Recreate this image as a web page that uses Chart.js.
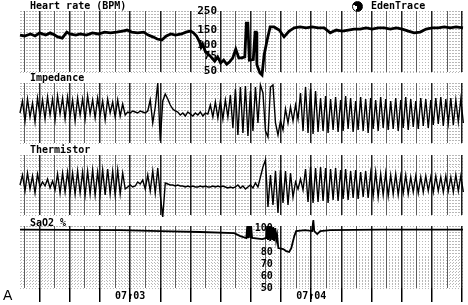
<!DOCTYPE html>
<html>
<head>
<meta charset="utf-8">
<script src="https://cdn.jsdelivr.net/npm/chart.js@4.4.1/dist/chart.umd.min.js"></script>
<style>
  body { margin: 0; width: 468px; height: 305px; background: #fff; position: relative; overflow: hidden; }
  canvas { position: absolute; left: 0; }
  .lbl { position: absolute; font: bold 10px 'DejaVu Sans Mono', monospace; line-height: 10px; color: #000; white-space: nowrap; }
</style>
</head>
<body>
<canvas id="hr" width="468" height="80" style="top:0px"></canvas>
<canvas id="imp" width="468" height="72" style="top:76px"></canvas>
<canvas id="therm" width="468" height="72" style="top:148px"></canvas>
<canvas id="sat" width="468" height="90" style="top:215px"></canvas>

<div class="lbl" style="left:30px;top:1px">Heart rate (BPM)</div>
<div class="lbl" style="left:30px;top:73px">Impedance</div>
<div class="lbl" style="left:30px;top:145px">Thermistor</div>
<div class="lbl" style="left:30px;top:218px">SaO2 %</div>
<div style="position:absolute;left:352px;top:1px;width:9px;height:9px;border:1px solid #000;border-radius:50%;background:conic-gradient(#000 0 200deg,#fff 200deg 290deg,#000 290deg)"></div>
<div class="lbl" style="left:371px;top:1px">EdenTrace</div>
<div style="position:absolute;left:3px;top:288px;font:14px 'Liberation Sans',sans-serif;line-height:14px">A</div>

<script>
// time axis in seconds, 0 = 07:03 mark
const xMin = -36.5, xMax = 110.3;
const timeMarkAt = [0, 60];
const timeMarkText = ['07\u219103', '07\u219104'];

// heart rate (BPM)
const hrTicks = [250, 150, 100, 75, 50];
const hrTime = [-36.5, -35, -33, -31.5, -30, -28, -26.5, -25, -24, -22.5, -21, -20, -18, -16.5, -14.5, -12.5, -10.5, -8.5, -6.5, -4.5,
  -2.5, -1, 0.5, 2.5, 4.5, 6, 7.5, 9, 10.5, 12, 13.5, 15, 17, 18.5, 20, 21, 22, 23, 23.5, 24,
  25, 26.5, 28, 29, 30, 31, 32, 33, 34, 35, 36, 37, 38, 38.5, 39, 39.5, 40.8, 41.4, 41.8, 42,
  43, 43.7, 44.4, 45.4, 46.4, 47.7, 49.4, 51, 52.7, 54.4, 56.3, 58.3, 60.3, 62.3, 64.3, 66.3, 68.3, 70.3, 72.3, 74.2,
  76.2, 78.2, 80.2, 82.2, 84.2, 86.2, 88.2, 90.2, 92.2, 94.1, 96.1, 98.1, 100.1, 102.1, 104.1, 106.1, 108, 110.3];
const hrBpm = [131, 128, 135, 128, 139, 131, 139, 131, 125, 121, 142, 135, 131, 135, 131, 139, 135, 142, 139, 142,
  146, 150, 142, 139, 142, 131, 125, 118, 115, 128, 135, 131, 135, 142, 146, 139, 128, 109, 95, 103,
  83, 75, 65, 73, 62, 67, 60, 64, 71, 90, 71, 71, 73, 181, 181, 67, 68, 142, 142, 59,
  47.5, 45, 77, 115, 163, 163, 150, 125, 146, 159, 163, 159, 163, 159, 159, 139, 150, 146, 150, 154,
  154, 159, 154, 159, 159, 154, 159, 154, 146, 139, 142, 154, 159, 159, 163, 159, 163, 159];

// impedance and thermistor, one sample every 0.83 s
const sampleStep = 0.83;
const impValues = [
  0, 12, -8, 14, -4, 10, -9, 15, -3, 13,
  -6, 16, -2, 14, -7, 17, -1, 15, -6, 16,
  -3, 13, -8, 15, -2, 14, -6, 17, -1, 13,
  -5, 15, -2, 12, -7, 14, 0, 11, -4, 13,
  -3, 9, -2,
  1, 0, 2, 1, 0, 2, 1, 0,
  2, 13, -10, 6, 30, -28, 12, 19, 14, 8, 4, 2,
  1, -2, 0, -3, 1, -1, -3, 0, -2, 1, -3, 0, -1,
  8, -4, 11, -5, 12, -6, 13, -4, 18, -15,
  24, -22, 26, -20, 27, -23, 22, -18, 26, -10,
  28, 20, -18, -24, 26, 28, -10, -22, -8, -17,
  4, -10, 6, -8, 8, -6, 20, -18, 26, -20,
  24, -21, 22,
  -19, 15, -18, 17, -20, 14, -17, 16, -19, 13,
  -18, 17, -16, 15, -19, 12, -17, 16, -18, 14,
  -20, 15, -16, 13, -18, 16, -15, 14, -17, 12,
  -16, 15, -18, 13, -15, 16, -17, 14, -14, 12,
  -16, 15, -13, 14, -15, 13, -12, 15, -11, 16,
  -13, 14, -10, 15, -12, 13, -9, 14, -10];
const thermValues = [
  0, 10, -6, 12, -4, 9, -8, 11, -2, 3,
  -1, 6, -3, 4, -5, 11, -8, 12, -7, 13,
  -8, 12, -9, 14, -8, 13, -10, 14, -9, 15,
  -10, 13, -9, 15, -10, 16, -9, 14, -10, 15,
  -9, 12, -4,
  -2, 0, -2, -1, 3, 1, 5, -4, 10, -6, 14, -8, 17, -10, -32, 2, 1, 0,
  0, -1, 0, -1, -1, -2, -1, -2, -1, -2, -2, -1, -2, -1, -2, -2, -1, -2, -1, -2, -1, -2, -3, -2, -3,
  -2, 0, -3, -1, -4, -2, 0, -3, 2, -2,
  8, 18, 25, -22, 10, -20, 14, -28, 15, -18, 14, -20, 12, -12, 3, -4, 6, -5, 16, -17, 18, -18, 17, -17,
  18, -16, 17, -18, 16, -15, 17, -16, 15, -14,
  16, -15, 14, -13, 15, -14, 13, -12, 14, -13,
  12, -11, 13, -12, 11, -10, 12, -11, 10, -9,
  11, -10, 9, -8, 10, -9, 8, -7, 9, -8,
  8, -7, 9, -6, 8, -7, 9, -6, 8, -7,
  9, -6, 8, -7, 10, -6, 9, -7];

// oxygen saturation (%)
const satTicks = [100, 80, 70, 60, 50];
const satTime = [-36.5, -3.3, 10, 23.2, 34.5, 36.5, 38.5, 38.8, 39.1, 39.4, 39.8, 40.1, 40.4, 43.8, 45.1,
  45.4, 45.7, 46.1, 46.4, 46.7, 47.1, 47.4, 47.7, 48.1, 48.4, 48.7, 49.1, 50.7, 51.7, 52.7,
  53.4, 54.4, 55, 58, 60.3, 60.7, 61, 62, 63, 66.3, 82.9, 110.3];
const satPct = [98.6, 98.3, 97.5, 96.7, 95.8, 93.3, 91.7, 101.7, 91.7, 101.7, 91.7, 101.7, 91.7, 90.8, 91.7,
  101.7, 90, 101.7, 89.2, 101.7, 90, 100.8, 89.2, 100, 90, 94.2, 83.3, 82.5, 80.8, 80,
  83.3, 93.3, 97.5, 98.3, 97.5, 106.7, 97.5, 95, 97.5, 98.3, 98.6, 98.6];

const monoBold = (size) => ({ family: "'DejaVu Sans Mono', 'DejaVu Sans'", size: size, weight: 'bold' });
const isMajor = (c) => c.tick && c.tick.value % 10 === 0;

function gridAxes(bottom) {
  return {
    xm: {
      type: 'linear', axis: 'x', position: 'bottom', min: xMin, max: xMax,
      ticks: { display: false, stepSize: 1, autoSkip: false, includeBounds: false },
      grid: { color: '#b8b8b8', drawTicks: false, z: -2 },
      border: { display: false, dash: [1, 2] },
      afterFit: (s) => { s.height = 0; }
    },
    ym: {
      type: 'linear', axis: 'y', position: 'left', min: 0, max: 20,
      ticks: { display: false, stepSize: 1, includeBounds: false },
      grid: { color: '#b8b8b8', drawTicks: false, z: -2 },
      border: { display: false, dash: [1, 2] },
      afterFit: (s) => { s.width = 0; }
    },
    x: {
      type: 'linear', position: 'bottom', min: xMin, max: xMax,
      ticks: {
        display: bottom, stepSize: 5, autoSkip: false, includeBounds: false,
        maxRotation: 0, minRotation: 0, padding: -12, color: '#000', font: monoBold(10),
        callback: (v) => { const k = timeMarkAt.indexOf(v); return k < 0 ? '' : timeMarkText[k]; }
      },
      grid: {
        color: (c) => isMajor(c) ? '#1e1e1e' : '#5c5c5c',
        lineWidth: (c) => isMajor(c) ? 1.5 : 1,
        drawTicks: bottom, tickLength: 14, tickWidth: 1.5,
        tickColor: (c) => isMajor(c) ? '#000' : 'rgba(0,0,0,0)'
      },
      border: { display: false },
      afterFit: (s) => { s.height = bottom ? 17 : 0; }
    }
  };
}

function trace(xs, ys, width) {
  return {
    data: xs.map((t, i) => ({ x: t, y: ys[i] })),
    borderColor: '#000', borderWidth: width, pointRadius: 0, tension: 0, clip: false,
    xAxisID: 'x', yAxisID: 'y'
  };
}

function stripChart(id, dataset, yAxis, padTop, padBottom, bottom) {
  const scales = gridAxes(bottom);
  scales.y = yAxis;
  return new Chart(document.getElementById(id), {
    type: 'line',
    data: { datasets: [dataset] },
    options: {
      responsive: false, animation: false, events: [],
      layout: { padding: { left: 20, right: 5, top: padTop, bottom: padBottom } },
      plugins: { legend: { display: false }, tooltip: { enabled: false } },
      scales: scales
    }
  });
}

function labelAxis(type, min, max, atX, tickList, size) {
  return {
    type: type, min: min, max: max, position: { x: atX },
    afterBuildTicks: (s) => { s.ticks = tickList.map((v) => ({ value: v })); },
    ticks: { callback: (v) => String(v), color: '#000', font: monoBold(size), padding: 0, autoSkip: false, z: 1 },
    grid: { display: false, drawTicks: false },
    border: { display: false }
  };
}

const sampleTimes = impValues.map((v, i) => xMin + i * sampleStep);

stripChart('hr', trace(hrTime, hrBpm, 2.8), labelAxis('logarithmic', 48.7, 250, 28.8, hrTicks, 11), 11, 8, false);
stripChart('imp', trace(sampleTimes, impValues, 1.4), { type: 'linear', min: -30, max: 30, display: false }, 7, 5, false);
stripChart('therm', trace(sampleTimes, thermValues, 1.4), { type: 'linear', min: -30, max: 30, display: false }, 7, 5, false);
stripChart('sat', trace(satTime, satPct, 1.8), labelAxis('linear', 50, 101.7, 47.3, satTicks, 10), 11, 0, true);
</script>
</body>
</html>
